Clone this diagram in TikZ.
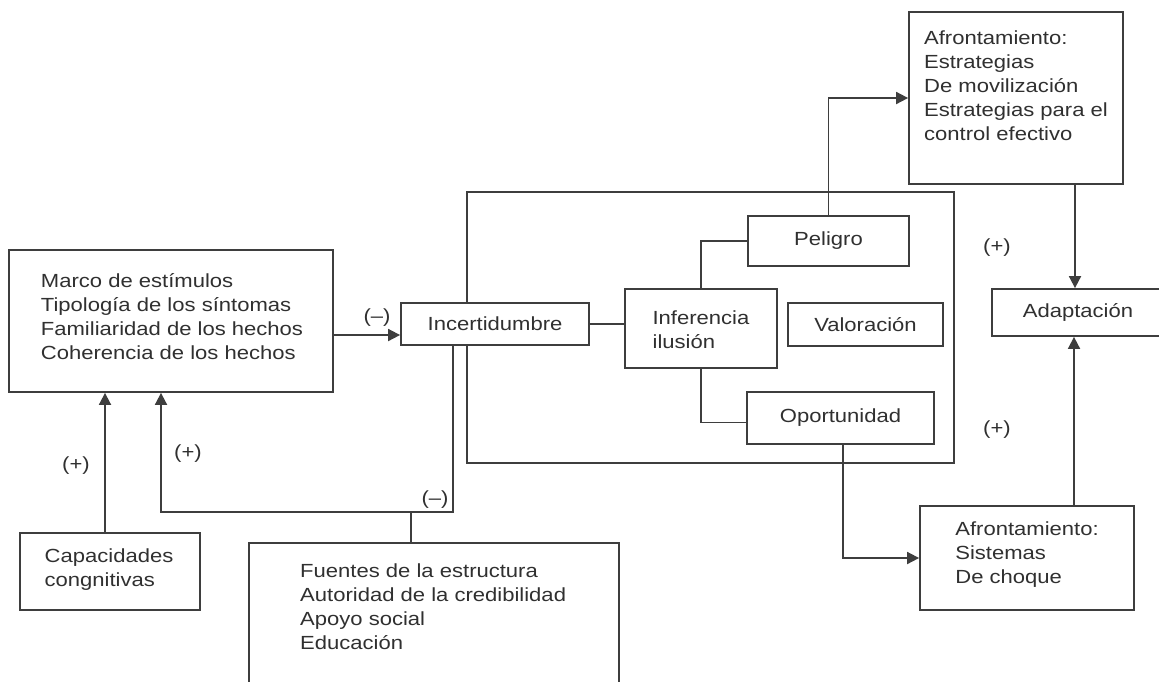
\documentclass[tikz,border=0pt]{standalone}
\usepackage{fontspec}
\setmainfont{Liberation Sans}[FakeStretch=1.16]
\usetikzlibrary{arrows.meta}
\definecolor{linec}{HTML}{3E3E3E}
\definecolor{textc}{HTML}{303030}
\begin{document}
\begin{tikzpicture}[x=1pt,y=-1pt,
  box/.style={draw=linec, line width=1.8pt, fill=white, rectangle, inner sep=0pt},
  txt/.style={text=textc, font=\fontsize{19}{24}\selectfont, align=left, inner sep=0pt},
  lbl/.style={text=textc, font=\fontsize{19}{24}\selectfont, inner sep=0pt},
  conn/.style={draw=linec, line width=1.8pt},
  arr/.style={conn, -{Triangle[length=12pt,width=12pt]}}]
\clip (0,0) rectangle (1159,681);
\fill[white] (0,0) rectangle (1159,681);

% big frame
\node[box, fill=none, minimum width=487pt, minimum height=271pt] (frame) at (710.5,327.5) {};

% boxes
\node[box, minimum width=324pt, minimum height=142pt] (marco) at (171,321) {};
\node[txt] (marcot) at (172,317) {Marco de estímulos\\Tipología de los síntomas\\Familiaridad de los hechos\\Coherencia de los hechos};

\node[box, minimum width=188pt, minimum height=42pt] (incert) at (495,324) {};
\node[lbl] (incertt) at (495,324) {Incertidumbre};

\node[box, minimum width=152pt, minimum height=79pt] (infer) at (701,328.5) {};
\node[txt] (infert) at (701,329.5) {Inferencia\\ilusión};

\node[box, minimum width=161pt, minimum height=50pt] (peligro) at (828.5,241) {};
\node[lbl] (peligrot) at (828.5,241) {Peligro};

\node[box, minimum width=155pt, minimum height=43pt] (valor) at (865.5,324.5) {};
\node[lbl] (valort) at (865.5,324.5) {Valoración};

\node[box, minimum width=187pt, minimum height=52pt] (oport) at (840.5,418) {};
\node[lbl] (oportt) at (840.5,418) {Oportunidad};

\node[box, minimum width=214pt, minimum height=172pt] (afront1) at (1016,98) {};
\node[txt] (afront1t) at (1016,86) {Afrontamiento:\\Estrategias\\De movilización\\Estrategias para el\\control efectivo};

\node[box, minimum width=178pt, minimum height=47pt] (adapt) at (1081,312.5) {};
\node[lbl] (adaptt) at (1078,312.5) {Adaptación};

\node[box, minimum width=214pt, minimum height=104pt] (afront2) at (1027,558) {};
\node[txt] (afront2t) at (1027,555) {Afrontamiento:\\Sistemas\\De choque};

\node[box, minimum width=180pt, minimum height=77pt] (capac) at (110,571.5) {};
\node[txt] (capact) at (109,570) {Capacidades\\congnitivas};

\node[box, minimum width=370pt, minimum height=177pt] (fuentes) at (434,631.5) {};
\node[txt, anchor=west] (fuentest) at (300,607) {Fuentes de la estructura\\Autoridad de la credibilidad\\Apoyo social\\Educación};

% connectors
\draw[arr] ([yshift=-11pt]incert.west -| marco.east) -- ([yshift=-11pt]incert.west);
\node[lbl] (lm1) at (377,318) {(–)};

\draw[arr] ([xshift=-5pt]capac.north) -- ([xshift=-5pt]capac.north |- marco.south);
\node[lbl] (lp1) at (76,466) {(+)};

\coordinate (fbL) at (161,512);
\coordinate (fbJ) at (411,512);
\draw[arr] ([xshift=-42pt]incert.south) |- (fbL) -- (fbL |- marco.south);
\draw[conn] (fbJ) -- (fbJ |- fuentes.north);
\node[lbl] (lp2) at (188,454) {(+)};
\node[lbl] (lm2) at (435,500) {(–)};

\draw[conn] (incert.east) -- (incert.east -| infer.west);
\draw[conn] (infer.north) |- (peligro.west);
\draw[conn] (infer.south) |- ([yshift=-4.5pt]oport.west);

\draw[arr] (peligro.north) |- (afront1.west);
\draw[arr] ([xshift=59pt]afront1.south) -- ([xshift=59pt]afront1.south |- adapt.north);
\node[lbl] (lp3) at (997,248) {(+)};

\draw[arr] ([xshift=2.5pt]oport.south) |- (afront2.west);
\draw[arr] ([xshift=47pt]afront2.north) -- ([xshift=47pt]afront2.north |- adapt.south);
\node[lbl] (lp4) at (997,430) {(+)};
\end{tikzpicture}
\end{document}
